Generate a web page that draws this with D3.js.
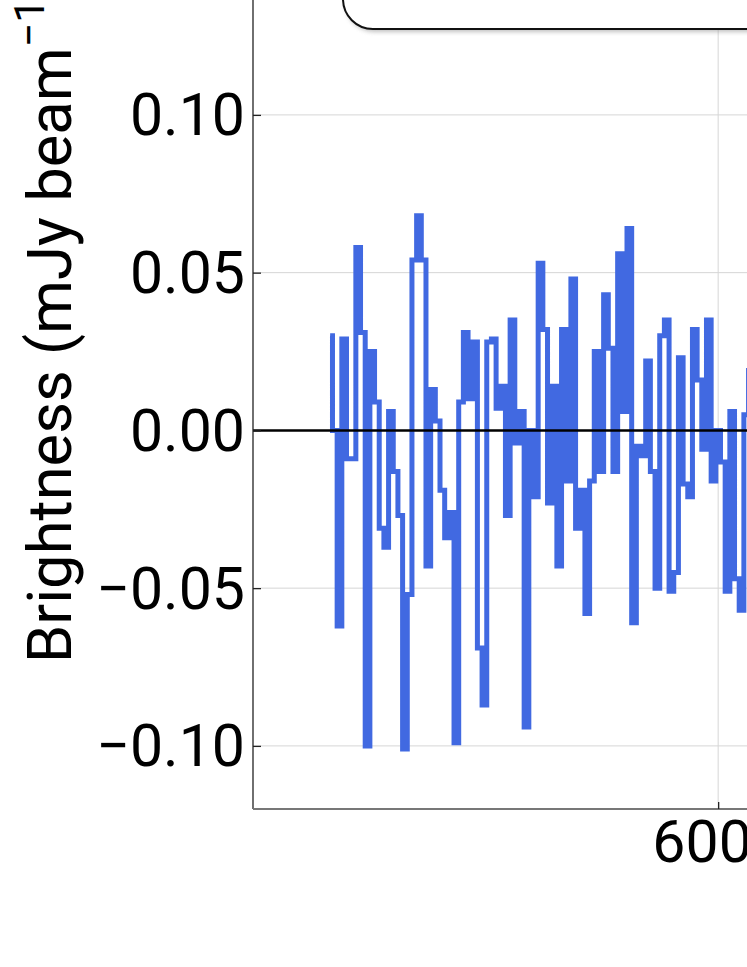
<!DOCTYPE html>
<html lang="en">
<head>
<meta charset="UTF-8">
<title>Brightness spectrum</title>
<script src="https://cdnjs.cloudflare.com/ajax/libs/d3/7.8.5/d3.min.js"></script>
<style>
    body { margin: 0; background: #fff; }
    svg { display: block; font-family: "Roboto", "Noto Sans", sans-serif; }
    .grid line { stroke: #d6d6d6; stroke-width: 1; }
    .axis text { font-family: "Roboto", sans-serif; font-size: 59px; fill: #000; }
    .axis line { stroke: #222; stroke-width: 1.3; }
</style>
</head>
<body>
<div id="chart"></div>
<script>
    // channel centres (x units) and brightness (mJy/beam)
    const channels = [
        5170, 5180, 5190, 5200, 5210, 5220, 5230, 5240, 5250, 5260,
        5270, 5280, 5290, 5300, 5310, 5320, 5330, 5340, 5350, 5360,
        5370, 5380, 5390, 5400, 5410, 5420, 5430, 5440, 5450, 5460,
        5470, 5480, 5490, 5500, 5510, 5520, 5530, 5540, 5550, 5560,
        5570, 5580, 5590, 5600, 5610, 5620, 5630, 5640, 5650, 5660,
        5670, 5680, 5690, 5700, 5710, 5720, 5730, 5740, 5750, 5760,
        5770, 5780, 5790, 5800, 5810, 5820, 5830, 5840, 5850, 5860,
        5870, 5880, 5890, 5900, 5910, 5920, 5930, 5940, 5950, 5960,
        5970, 5980, 5990, 6000, 6010, 6020, 6030, 6040, 6050, 6060,
        6070
    ];
    const brightness = [
        0.030, 0.000, -0.062, 0.029, -0.009, -0.009, 0.058, 0.031, -0.100, 0.025,
        0.009, -0.031, -0.037, 0.006, -0.013, -0.027, -0.101, -0.052, 0.054, 0.068,
        0.054, -0.043, 0.013, 0.003, -0.019, -0.034, -0.026, -0.099, 0.009, 0.031,
        0.010, 0.028, -0.069, -0.087, 0.028, 0.029, 0.007, 0.014, -0.027, 0.035,
        -0.004, 0.006, -0.094, 0.000, -0.021, 0.053, 0.032, -0.023, 0.014, -0.043,
        0.032, -0.016, 0.048, -0.031, -0.019, -0.058, -0.016, 0.025, -0.013, 0.043,
        0.026, -0.013, 0.056, 0.006, 0.064, -0.061, -0.005, -0.008, 0.022, -0.013,
        -0.050, 0.030, 0.035, -0.051, -0.045, 0.023, -0.017, -0.021, 0.032, 0.016,
        -0.006, 0.035, -0.016, 0.000, -0.010, -0.051, 0.006, -0.047, -0.057, 0.005,
        0.019
    ];
    const yTicks = [-0.10, -0.05, 0.00, 0.05, 0.10];
    const xTicks = [6000, 7000];

    const width = 747;
    const height = 967;
    const left = 253;
    const bottom = 809;

    const svg = d3.select("#chart")
        .append("svg")
        .attr("width", width)
        .attr("height", height);

    const x = d3.scaleLinear()
        .domain([5005, 7000])
        .range([left, left + 1995 * 0.4675]);
    const y = d3.scaleLinear()
        .domain([-0.12, 0.20])
        .range([bottom, bottom - 0.32 * 3155]);

    // grid
    const grid = svg.append("g").attr("class", "grid");
    grid.selectAll(".gy")
        .data(yTicks)
        .enter().append("line")
        .attr("x1", left).attr("x2", x.range()[1])
        .attr("y1", d => y(d)).attr("y2", d => y(d));
    grid.selectAll(".gx")
        .data(xTicks)
        .enter().append("line")
        .attr("x1", d => x(d)).attr("x2", d => x(d))
        .attr("y1", bottom).attr("y2", y.range()[1]);

    // spectrum as steps
    const points = channels.map((c, i) => [c, brightness[i]]);
    const line = d3.line()
        .x(d => x(d[0]))
        .y(d => y(d[1]))
        .curve(d3.curveStep);
    svg.append("path")
        .datum(points)
        .attr("d", line)
        .attr("fill", "none")
        .attr("stroke", "#4169e1")
        .attr("stroke-width", 5)
        .attr("stroke-linejoin", "miter");

    // zero line
    svg.append("line")
        .attr("x1", left).attr("x2", x.range()[1])
        .attr("y1", y(0)).attr("y2", y(0))
        .attr("stroke", "#000")
        .attr("stroke-width", 2.5);

    // legend box (mostly above the visible area)
    const defs = svg.append("defs");
    defs.append("filter").attr("id", "shadow")
        .append("feGaussianBlur").attr("stdDeviation", 2);
    svg.append("rect")
        .attr("x", 345).attr("y", -90)
        .attr("width", 800).attr("height", 122)
        .attr("rx", 30)
        .attr("fill", "#999")
        .attr("opacity", 0.6)
        .attr("filter", "url(#shadow)");
    svg.append("rect")
        .attr("x", 343).attr("y", -92)
        .attr("width", 800).attr("height", 121)
        .attr("rx", 30)
        .attr("fill", "#fff")
        .attr("stroke", "#111")
        .attr("stroke-width", 2);

    // spines
    svg.append("line")
        .attr("x1", left).attr("x2", left)
        .attr("y1", 0).attr("y2", bottom)
        .attr("stroke", "#222").attr("stroke-width", 1.3);
    svg.append("line")
        .attr("x1", left).attr("x2", width)
        .attr("y1", bottom).attr("y2", bottom)
        .attr("stroke", "#777").attr("stroke-width", 2);

    // axes
    const yAxis = svg.append("g")
        .attr("class", "axis")
        .attr("transform", `translate(${left},0)`)
        .call(d3.axisLeft(y)
            .tickValues(yTicks)
            .tickFormat(d3.format(".2f"))
            .tickSizeInner(-8)
            .tickSizeOuter(0)
            .tickPadding(8));
    yAxis.select(".domain").remove();
    yAxis.selectAll("text").attr("dy", "0.34em");

    const xAxis = svg.append("g")
        .attr("class", "axis")
        .attr("transform", `translate(0,${bottom})`)
        .call(d3.axisBottom(x)
            .tickValues(xTicks)
            .tickFormat(d3.format("d"))
            .tickSizeInner(-7)
            .tickSizeOuter(0)
            .tickPadding(11));
    xAxis.select(".domain").remove();

    // y label
    const label = svg.append("text")
        .attr("transform", "translate(71,663) rotate(-90)")
        .attr("font-family", "Roboto, sans-serif")
        .attr("font-size", 61.5)
        .attr("fill", "#000");
    label.append("tspan").text("Brightness (mJy beam");
    label.append("tspan").attr("dy", -27).attr("font-size", 43).text("\u22121");
    label.append("tspan").attr("dy", 27).text(")");
</script>
</body>
</html>
